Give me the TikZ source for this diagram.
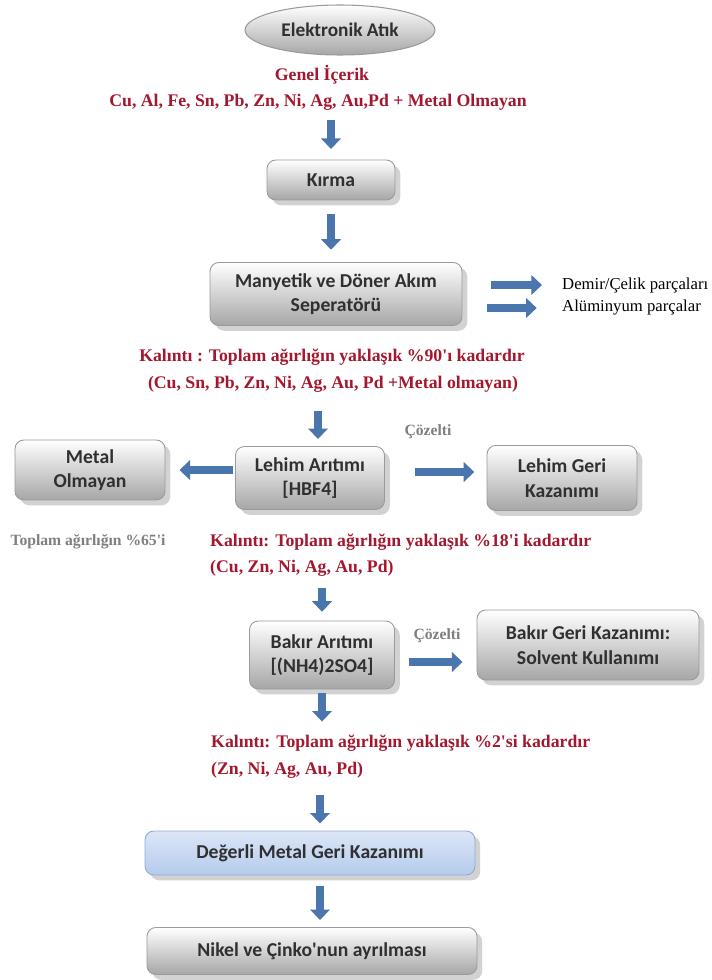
\documentclass[tikz,border=0pt]{standalone}
\usepackage{fontspec}
\setmainfont{Liberation Serif}
\newfontfamily\boxfont{Carlito}
\usetikzlibrary{arrows.meta,shapes.geometric,shadows}
\definecolor{EARed}{HTML}{A3182F}
\definecolor{EAGrey}{HTML}{7F7F7F}
\definecolor{EAText}{HTML}{303030}
\definecolor{EABlue}{HTML}{4A76AD}
\definecolor{EABlueEdge}{HTML}{385D8A}
\definecolor{EALine}{HTML}{9A9A9A}
\definecolor{EABoxLow}{HTML}{A6A6A6}
\definecolor{EASky}{HTML}{DCE6F7}
\definecolor{EASkyLow}{HTML}{B4CBEB}
\definecolor{EASkyLine}{HTML}{8EAADB}

\begin{document}
\begin{tikzpicture}[x=0.02cm,y=-0.02cm,
  stepbox/.style={draw=EALine,line width=.5pt,rounded corners=5pt,align=center,
    top color=white,bottom color=EABoxLow,text=EAText,
    font=\boxfont\bfseries\fontsize{11.2}{14}\selectfont,
    drop shadow={shadow xshift=3pt,shadow yshift=-3pt,opacity=.35}},
  redtext/.style={text=EARed,font=\bfseries\fontsize{10.1}{12}\selectfont},
  greytext/.style={text=EAGrey,font=\bfseries\fontsize{8.9}{11}\selectfont},
  sidetext/.style={anchor=west,font=\fontsize{9.5}{11}\selectfont},
  bigarrow/.style={draw=EABlue,line width=4.2pt,-{Triangle[length=6pt,width=11pt]}}]
\useasboundingbox (0,0) rectangle (711,980);
\fill[white] (0,0) rectangle (711,980);
\node[ellipse,draw=EALine,line width=.6pt,top color=white,bottom color=EABoxLow,
  minimum width=3.8cm,minimum height=1.0cm,text=EAText,
  font=\boxfont\bfseries\fontsize{11}{13}\selectfont] (atik) at (340,30) {Elektronik Atık};
\node[redtext] (genel) at (322,75) {Genel İçerik};
\node[redtext] (icerik) at (318,102) {Cu, Al, Fe, Sn, Pb, Zn, Ni, Ag, Au,Pd + Metal Olmayan};
\node[stepbox,minimum width=2.56cm,minimum height=0.8cm] (kirma) at (331,180) {Kırma};
\node[stepbox,minimum width=5.04cm,minimum height=1.26cm] (manyetik) at (336,294) {Manyetik ve Döner Akım\\Seperatörü};
\node[sidetext] (demir) at (556,285) {Demir/Çelik parçaları};
\node[sidetext] (alum) at (556,308) {Alüminyum parçalar};
\node[redtext] (kalinti1) at (332,357) {Kalıntı : Toplam ağırlığın yaklaşık \%90\textquotesingle ı kadardır};
\node[redtext] (liste1) at (333,384) {(Cu, Sn, Pb, Zn, Ni, Ag, Au, Pd +Metal olmayan)};
\node[greytext] (cozelti1) at (428,432) {Çözelti};
\node[stepbox,minimum width=2.98cm,minimum height=1.26cm] (lehim) at (310,478) {Lehim Arıtımı\\{[HBF4]}};
\node[stepbox,minimum width=3.0cm,minimum height=1.2cm] (metal) at (90,470) {Metal\\Olmayan};
\node[stepbox,minimum width=3.0cm,minimum height=1.3cm] (lehimgeri) at (562,478) {Lehim Geri\\Kazanımı};
\node[greytext] (yuzde65) at (88,542) {Toplam ağırlığın \%65\textquotesingle i};
\node[redtext,anchor=west] (kalinti2) at (204,542) {Kalıntı: Toplam ağırlığın yaklaşık \%18\textquotesingle i kadardır};
\node[redtext,anchor=west] (liste2) at (204,568) {(Cu, Zn, Ni, Ag, Au, Pd)};
\node[stepbox,minimum width=2.9cm,minimum height=1.36cm] (bakir) at (322,655) {Bakır Arıtımı\\{[(NH4)2SO4]}};
\node[greytext] (cozelti2) at (437,636) {Çözelti};
\node[stepbox,minimum width=4.44cm,minimum height=1.4cm] (bakirgeri) at (588,645) {Bakır Geri Kazanımı:\\Solvent Kullanımı};
\node[redtext,anchor=west] (kalinti3) at (205,743) {Kalıntı: Toplam ağırlığın yaklaşık \%2\textquotesingle si kadardır};
\node[redtext,anchor=west] (liste3) at (205,770) {(Zn, Ni, Ag, Au, Pd)};
\node[stepbox,draw=EASkyLine,top color=EASky,bottom color=EASkyLow,minimum width=6.6cm,minimum height=0.88cm] (degerli) at (310,853) {Değerli Metal Geri Kazanımı};
\node[stepbox,minimum width=6.6cm,minimum height=0.94cm] (nikel) at (312,951) {Nikel ve Çinko\textquotesingle nun ayrılması};
\draw[bigarrow,shorten <=2pt,shorten >=6pt] (icerik.south -| kirma.north) -- (kirma.north);
\draw[bigarrow,shorten <=8pt,shorten >=7pt] (kirma.south) -- (kirma.south |- manyetik.north);
\draw[bigarrow,shorten <=16pt,shorten >=8pt] (demir.west -| manyetik.east) -- (demir.west);
\draw[bigarrow,shorten <=14pt,shorten >=11pt] (alum.west -| manyetik.east) -- (alum.west);
\draw[bigarrow,shorten <=7pt,shorten >=4pt] ([xshift=0.16cm]liste1.south -| lehim.north) -- ([xshift=0.16cm]lehim.north);
\draw[bigarrow,shorten <=1pt,shorten >=8pt] ([yshift=0.16cm]lehim.west) -- ([yshift=0.16cm]lehim.west -| metal.east);
\draw[bigarrow,shorten <=17pt,shorten >=7pt] ([yshift=0.12cm]lehim.east) -- ([yshift=0.12cm]lehim.east -| lehimgeri.west);
\draw[bigarrow,shorten <=3pt,shorten >=5pt] (liste2.south -| bakir.north) -- (bakir.north);
\draw[bigarrow,shorten <=8pt,shorten >=8pt] ([yshift=-0.14cm]bakir.east) -- ([yshift=-0.14cm]bakir.east -| bakirgeri.west);
\draw[bigarrow,shorten <=2pt,shorten >=4pt] (bakir.south) -- (bakir.south |- kalinti3.north);
\draw[bigarrow,shorten <=6pt,shorten >=4pt] ([xshift=0.2cm]liste3.south -| degerli.north) -- ([xshift=0.2cm]degerli.north);
\draw[bigarrow,shorten <=6pt,shorten >=4pt] ([xshift=0.2cm]degerli.south) -- ([xshift=0.2cm]degerli.south |- nikel.north);
\end{tikzpicture}
\end{document}
